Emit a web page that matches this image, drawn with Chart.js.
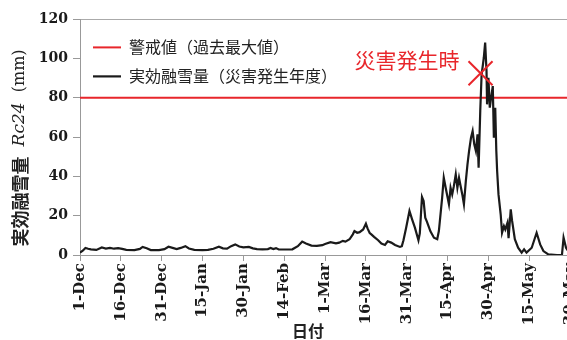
<!DOCTYPE html>
<html>
<head>
<meta charset="utf-8">
<script src="https://cdn.jsdelivr.net/npm/chart.js@4.4.1/dist/chart.umd.min.js"></script>
<style>
    html, body { margin: 0; padding: 0; background: #fff; overflow: hidden; }
    #wrap { width: 600px; height: 340px; }
</style>
</head>
<body>
<div id="wrap"><canvas id="rcChart" width="600" height="340"></canvas></div>
<script>
// x axis labels, one every 15 days starting 1-Dec (day 0)
const tickLabels = ['1-Dec', '16-Dec', '31-Dec', '15-Jan', '30-Jan', '14-Feb', '1-Mar',
    '16-Mar', '31-Mar', '15-Apr', '30-Apr', '15-May', '30-May'];
const tickStep = 15;

// 実効融雪量 Rc24 (mm), x = days since 1-Dec
const rcDays = [
    0, 1, 2, 3, 4, 6, 8, 9.5, 11, 12.5,
    14, 15.5, 17, 20, 22, 23, 24.5, 26, 29, 31,
    32.5, 34, 35.5, 37, 38.7, 40, 42, 45, 47, 49,
    51, 52.5, 54, 55.5, 57, 58.5, 60, 62, 63.5, 65,
    67, 69, 70, 71, 72, 73, 75, 78, 80, 81.6,
    83, 85, 87, 89, 90, 92, 94, 95.2, 96.5, 97.5,
    99, 100.2, 100.8, 101.8, 102.7, 104, 105, 105.6, 106.4, 107,
    108, 109.5, 110.7, 112, 113, 114.3, 115.7, 117.5, 118.2, 118.8,
    119.8, 121, 122, 123, 124.3, 124.8, 125.6, 126.2, 126.8, 127.4,
    128.7, 130, 131.2, 131.8, 133, 133.6, 134.3, 134.9, 135.5, 136.1,
    136.7, 137.3, 138, 138.6, 139.2, 139.8, 140.4, 141, 141.7, 142.3,
    142.9, 143.6, 144.2, 144.8, 145.4, 146, 146.4, 147, 147.5, 148,
    148.3, 148.8, 149.3, 149.5, 150, 150.5, 151, 151.6, 152, 152.5,
    152.9, 153.2, 153.7, 154.5, 155, 155.7, 156.2, 157, 157.4, 158.2,
    158.7, 159.7, 160.9, 162.2, 163.1, 164, 165.9, 167.7, 169, 170.2,
    172, 175.2, 177, 177.6, 178.5, 179.3, 180.5, 181.5
];
const rcValues = [
    1.2, 2.2, 3.6, 3.2, 2.9, 2.6, 3.8, 3.3, 3.6, 3.2,
    3.5, 3.1, 2.6, 2.5, 3.1, 4.1, 3.4, 2.5, 2.5, 3.0,
    4.2, 3.6, 3.0, 3.6, 4.5, 3.3, 2.6, 2.5, 2.6, 3.2,
    4.2, 3.4, 3.2, 4.5, 5.4, 4.3, 3.9, 4.1, 3.4, 3.0,
    2.9, 3.0, 3.6, 3.0, 3.5, 2.8, 2.8, 2.9, 4.5, 6.8,
    5.8, 4.8, 4.6, 5.0, 5.6, 6.5, 5.9, 6.3, 7.2, 6.8,
    8.0, 10.5, 12.2, 11.3, 11.6, 13.0, 15.9, 13.5, 11.2, 10.5,
    9.2, 7.5, 5.8, 5.1, 7.0, 6.3, 5.1, 4.1, 4.5, 7.5,
    14.0, 22.4, 18.0, 13.9, 7.5, 11.0, 29.5, 27.4, 19.0, 17.0,
    12.0, 8.8, 8.0, 12.2, 29.1, 39.3, 34.2, 30.0, 25.8, 34.2,
    30.8, 35.0, 41.0, 34.2, 39.3, 35.0, 30.8, 25.8, 37.6, 46.0,
    52.9, 59.6, 63.0, 56.3, 52.9, 61.4, 44.4, 73.2, 91.9, 97.0,
    100.3, 108.0, 93.5, 76.6, 90.1, 74.9, 80.0, 85.9, 59.6, 74.9,
    52.9, 42.7, 30.8, 20.7, 11.3, 14.7, 13.0, 16.4, 8.5, 23.2,
    17.3, 8.0, 3.7, 1.2, 2.9, 1.2, 3.7, 11.3, 5.4, 2.0,
    0.3, 0.0, 0.0, 8.8, 3.7, 2.0, 11.3, 9.0
];

// 警戒値(過去最大値)
const alertValue = 80;
// 災害発生時
const disasterDay = 147.1;
const disasterValue = 92.4;

const xMax = 184;
const red = '#e8262b';

const textPlugin = {
    id: 'textPlugin',
    afterDraw(chart) {
        const ctx = chart.ctx;

        // y axis title with italic Rc24
        const parts = [
            { t: '実効融雪量', f: 'bold 18px "Noto Sans CJK JP"' },
            { t: '  ', f: '16px "DejaVu Serif"' },
            { t: 'Rc24', f: 'italic 17px "DejaVu Serif"' },
            { t: '  (mm)', f: '16px "DejaVu Serif"' }
        ];
        ctx.save();
        ctx.fillStyle = '#222';
        ctx.textBaseline = 'middle';
        ctx.textAlign = 'left';
        let total = 0;
        parts.forEach(p => { ctx.font = p.f; p.w = ctx.measureText(p.t).width; total += p.w; });
        ctx.translate(20, 148);
        ctx.rotate(-Math.PI / 2);
        let x = -total / 2;
        parts.forEach(p => { ctx.font = p.f; ctx.fillText(p.t, x, 0); x += p.w; });
        ctx.restore();

        // x axis title
        ctx.save();
        ctx.fillStyle = '#222';
        ctx.font = 'bold 16px "Noto Sans CJK JP"';
        ctx.textAlign = 'center';
        ctx.textBaseline = 'middle';
        ctx.fillText('日付', 308, 331);

        // annotation next to the marker
        const px = chart.scales.x.getPixelForValue(disasterDay);
        const py = chart.scales.y.getPixelForValue(disasterValue);
        ctx.fillStyle = red;
        ctx.font = '21px "Noto Sans CJK JP"';
        ctx.textAlign = 'right';
        ctx.fillText('災害発生時', px - 21, py - 13);
        ctx.restore();
    }
};

const ctx = document.getElementById('rcChart').getContext('2d');

new Chart(ctx, {
    type: 'line',
    data: {
        datasets: [{
            label: '実効融雪量（災害発生年度）',
            data: rcDays.map((d, i) => ({ x: d, y: rcValues[i] })),
            borderColor: '#1a1a1a',
            borderWidth: 2.2,
            pointRadius: 0,
            tension: 0,
            order: 1
        }, {
            label: '警戒値（過去最大値）',
            data: [{ x: 0, y: alertValue }, { x: xMax, y: alertValue }],
            borderColor: red,
            borderWidth: 2,
            pointRadius: 0,
            order: 2
        }, {
            label: 'marker',
            type: 'scatter',
            data: [{ x: disasterDay, y: disasterValue }],
            pointStyle: 'crossRot',
            pointRadius: 17,
            borderColor: red,
            borderWidth: 2,
            order: 0
        }]
    },
    options: {
        responsive: false,
        animation: false,
        layout: { padding: { top: 18, right: 11, left: 0, bottom: 0 } },
        plugins: {
            tooltip: { enabled: false },
            legend: {
                position: 'chartArea',
                align: 'start',
                title: { display: true, text: '', font: { size: 22 }, padding: 0 },
                labels: {
                    usePointStyle: true,
                    pointStyle: 'line',
                    pointStyleWidth: 28,
                    padding: 13,
                    color: '#222',
                    font: { family: '"Noto Sans CJK JP"', size: 16 },
                    filter: item => item.datasetIndex !== 2,
                    sort: (a, b) => b.datasetIndex - a.datasetIndex
                }
            }
        },
        scales: {
            x: {
                type: 'linear',
                min: 0,
                max: xMax,
                afterFit: s => { s.height = 85; },
                border: { color: '#999' },
                grid: { drawOnChartArea: false, tickLength: 6, tickColor: '#999' },
                ticks: {
                    stepSize: tickStep,
                    includeBounds: false,
                    autoSkip: false,
                    minRotation: 90,
                    maxRotation: 90,
                    padding: 2,
                    color: '#1a1a1a',
                    font: { family: '"DejaVu Serif"', size: 15, weight: 'bold' },
                    callback: v => tickLabels[v / tickStep] || ''
                }
            },
            y: {
                min: 0,
                max: 120,
                afterFit: s => { s.width = 80; },
                border: { color: '#999' },
                grid: {
                    color: c => (c.tick && c.tick.value === 120) ? '#aaa' : 'rgba(0,0,0,0)',
                    tickColor: '#999',
                    tickLength: 7
                },
                ticks: {
                    stepSize: 20,
                    padding: 5,
                    color: '#1a1a1a',
                    font: { family: '"DejaVu Serif"', size: 14, weight: 'bold' }
                }
            }
        }
    },
    plugins: [textPlugin]
});
</script>
</body>
</html>
